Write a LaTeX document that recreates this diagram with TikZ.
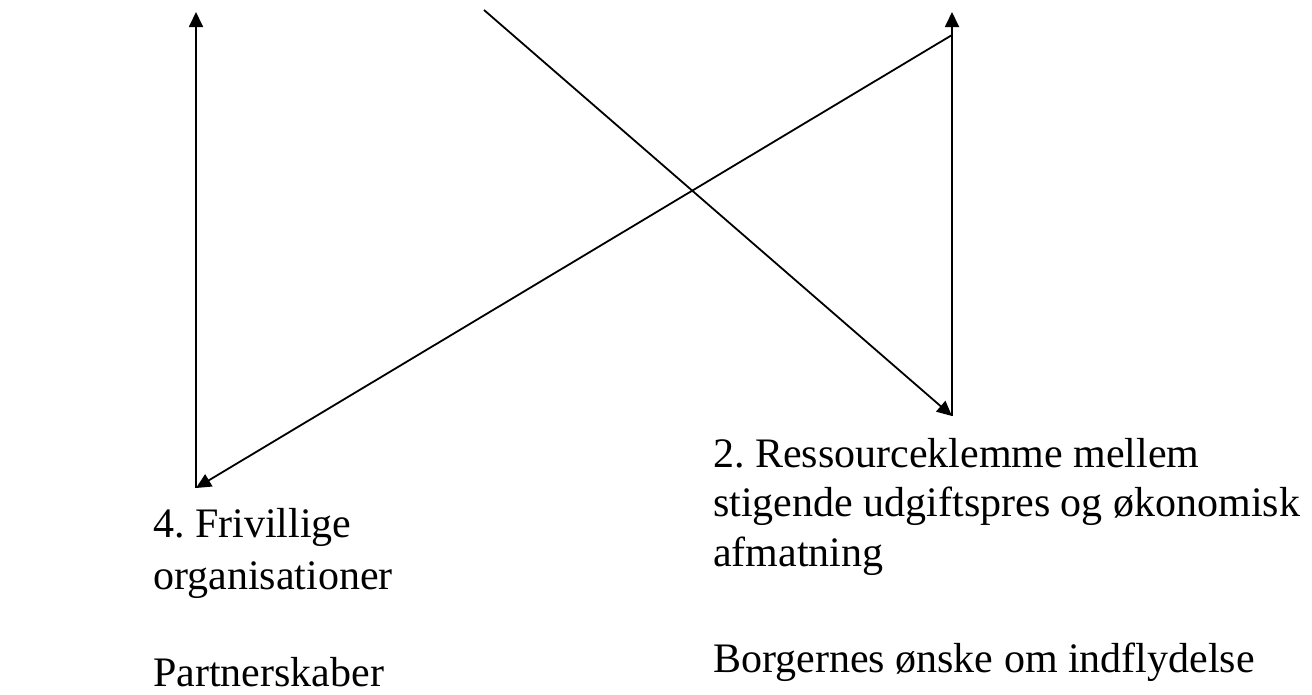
\documentclass[tikz,border=0pt]{standalone}
\usepackage{fontspec}
\setmainfont{Liberation Serif}
\usetikzlibrary{arrows.meta}
\frenchspacing
\begin{document}
\begin{tikzpicture}[x=1pt,y=-1pt,
  conn/.style={line width=1.8pt,-{Triangle[length=15pt,width=14pt]}},
  lbl/.style={anchor=base west,inner sep=0pt,align=left,font=\fontsize{42}{49.5}\selectfont\frenchspacing}]
\useasboundingbox[fill=white] (0,0) rectangle (1312,694);
\coordinate (Lb) at (196,488);
\coordinate (Lt) at (196,12);
\coordinate (Rb) at (952,416);
\coordinate (Rt) at (952,12);
\coordinate (Ds) at (484,10);
\coordinate (Es) at (952,35);
\draw[conn] (Lb) -- (Lt);
\draw[conn] (Rb) -- (Rt);
\draw[conn] (Ds) -- (Rb);
\draw[conn] (Es) -- (Lb);
\node[lbl,font=\fontsize{42}{52}\selectfont\frenchspacing] (t4) at (153,589) {4. Frivillige\\organisationer};
\node[lbl] (tp) at (153,686) {Partnerskaber};
\node[lbl] (t2) at (713,566) {2. Ressourceklemme mellem\\stigende udgiftspres og økonomisk\\afmatning};
\node[lbl] (tb) at (713,672) {Borgernes ønske om indflydelse};
\end{tikzpicture}
\end{document}
